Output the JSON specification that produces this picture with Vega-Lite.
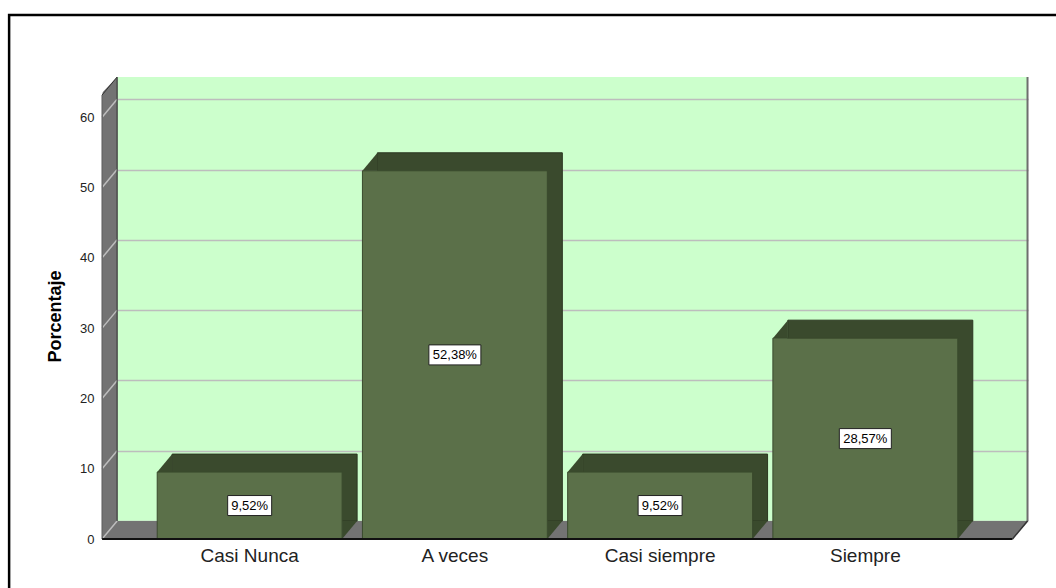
{
  "$schema": "https://vega.github.io/schema/vega-lite/v6.json",
  "width": 911,
  "height": 462,
  "autosize": {"type": "none"},
  "padding": {"left": 117, "top": 77, "right": 28, "bottom": 49},
  "background": "white",
  "view": {"fill": "#ccffcc", "stroke": null},
  "config": {"view": {"stroke": null, "fill": "#ccffcc"}, "font": "Liberation Sans"},
  "datasets": {
    "ticks": [{"g": 0}, {"g": 10}, {"g": 20}, {"g": 30}, {"g": 40}, {"g": 50}, {"g": 60}]
  },
  "data": {"values": [
    {"cat": "Casi Nunca", "pct": 9.52, "label": "9,52%"},
    {"cat": "A veces", "pct": 52.38, "label": "52,38%"},
    {"cat": "Casi siempre", "pct": 9.52, "label": "9,52%"},
    {"cat": "Siempre", "pct": 28.57, "label": "28,57%"}
  ]},
  "layer": [
    {
      "encoding": {
        "x": {"field": "cat", "type": "nominal", "sort": null,
          "scale": {"paddingInner": 0.099, "paddingOuter": 0.269},
          "axis": {"title": null, "labelFontSize": 19, "labelColor": "#222", "labelOffset": -15, "labelPadding": 7, "labelAngle": 0, "ticks": false, "domain": false, "grid": false}}
      },
      "layer": [
        {
          "mark": {"type": "rect", "fill": "#737373"},
          "encoding": {
            "x": null,
            "y": {"datum": 0, "type": "quantitative", "title": "Porcentaje", "scale": {"domain": [-2.56, 63.16], "nice": false, "zero": false}},
            "y2": {"datum": -2.56}
          }
        },
        {
          "data": {"name": "ticks"},
          "mark": {"type": "rule", "color": "#bdbdbd", "strokeWidth": 1.5, "xOffset": -15, "yOffset": 18},
          "encoding": {
            "x": {"datum": "Casi Nunca", "bandPosition": -0.298},
            "x2": {"datum": "Casi Nunca", "bandPosition": -0.298},
            "y": {"field": "g", "type": "quantitative", "title": "Porcentaje", "scale": {"domain": [-2.56, 63.16], "nice": false, "zero": false}},
            "y2": {"field": "g"}
          }
        },
        {
          "mark": {"type": "bar", "color": "#3a4a2d", "stroke": "#2c3822", "strokeWidth": 1},
          "encoding": {
            "y": {"field": "pct", "type": "quantitative", "title": "Porcentaje",
              "scale": {"domain": [-2.56, 63.16], "nice": false, "zero": false},
              "axis": {"values": [0, 10, 20, 30, 40, 50, 60], "title": "Porcentaje", "titleFontSize": 18, "titleFontWeight": "bold", "titleColor": "black", "titlePadding": 15, "titleY": 239,
                "labelFontSize": 13, "labelColor": "#222", "labelOffset": 18, "labelPadding": 15.5, "ticks": false, "tickSize": 0,
                "domain": true, "domainColor": "#737373", "domainWidth": 15, "offset": 7.5,
                "grid": true, "gridColor": "#bdbdbd", "gridWidth": 1.5}}
          }
        },
        {
          "mark": {"type": "point", "filled": true, "fill": "#3a4a2d", "strokeWidth": 0, "opacity": 1, "size": 1296, "shape": "M-0.8333,1L0,0L0,1Z"},
          "encoding": {
            "x": {"field": "cat", "type": "nominal", "sort": null, "bandPosition": 0},
            "y": {"field": "pct", "type": "quantitative", "title": "Porcentaje", "scale": {"domain": [-2.56, 63.16], "nice": false, "zero": false}}
          }
        },
        {
          "mark": {"type": "point", "filled": true, "fill": "#3a4a2d", "strokeWidth": 0, "opacity": 1, "size": 1296, "shape": "M-0.8333,0L0,0L-0.8333,1Z"},
          "encoding": {
            "x": {"field": "cat", "type": "nominal", "sort": null, "bandPosition": 1},
            "y": {"datum": 0, "type": "quantitative", "title": "Porcentaje", "scale": {"domain": [-2.56, 63.16], "nice": false, "zero": false}}
          }
        },
        {
          "mark": {"type": "bar", "color": "#5b7049", "stroke": "#3a4a2d", "strokeWidth": 1, "xOffset": -15, "x2Offset": -15, "yOffset": 18, "y2Offset": 18},
          "encoding": {
            "y": {"field": "pct", "type": "quantitative", "title": "Porcentaje", "scale": {"domain": [-2.56, 63.16], "nice": false, "zero": false}}
          }
        },
        {
          "data": {"values": [{}]},
          "mark": {"type": "point", "filled": true, "fill": "white", "strokeWidth": 0, "opacity": 1, "size": 1296, "shape": "M-0.8889,0L0,-1L0,0.1L-0.8889,0.1Z"},
          "encoding": {
            "x": {"datum": "Siempre", "bandPosition": 1.3},
            "y": {"datum": -2.56, "type": "quantitative", "title": "Porcentaje", "scale": {"domain": [-2.56, 63.16], "nice": false, "zero": false}}
          }
        },
        {
          "data": {"values": [{}]},
          "mark": {"type": "point", "filled": true, "fill": "white", "strokeWidth": 0, "opacity": 1, "size": 1296, "shape": "M-0.95,-0.05L0,-0.05L0,0L-0.95,1Z"},
          "encoding": {
            "x": {"datum": "Casi Nunca", "bandPosition": -0.298},
            "y": {"datum": 63.16, "type": "quantitative", "title": "Porcentaje", "scale": {"domain": [-2.56, 63.16], "nice": false, "zero": false}}
          }
        },
        {
          "data": {"values": [{}]},
          "mark": {"type": "rule", "color": "#333", "strokeWidth": 1, "xOffset": -15, "yOffset": 18},
          "encoding": {
            "x": {"datum": "Casi Nunca", "bandPosition": -0.298},
            "x2": {"datum": "Casi Nunca", "bandPosition": -0.298},
            "y": {"datum": 63.16, "type": "quantitative", "title": "Porcentaje", "scale": {"domain": [-2.56, 63.16], "nice": false, "zero": false}},
            "y2": {"datum": 63.16}
          }
        },
        {
          "data": {"values": [{}]},
          "mark": {"type": "rule", "color": "#333", "strokeWidth": 1, "xOffset": -15, "x2Offset": -15, "yOffset": 18},
          "encoding": {
            "x": {"datum": "Casi Nunca", "bandPosition": -0.298},
            "x2": {"datum": "Casi Nunca", "bandPosition": -0.298},
            "y": {"datum": 63.16, "type": "quantitative", "title": "Porcentaje", "scale": {"domain": [-2.56, 63.16], "nice": false, "zero": false}},
            "y2": {"datum": -2.56}
          }
        },
        {
          "data": {"values": [{}]},
          "mark": {"type": "rule", "color": "#333", "strokeWidth": 1},
          "encoding": {
            "x": {"datum": "Casi Nunca", "bandPosition": -0.298},
            "y": {"datum": 63.16, "type": "quantitative", "title": "Porcentaje", "scale": {"domain": [-2.56, 63.16], "nice": false, "zero": false}},
            "y2": {"datum": 0}
          }
        },
        {
          "data": {"values": [{}]},
          "mark": {"type": "rule", "color": "#6e6e6e", "strokeWidth": 2},
          "encoding": {
            "x": {"datum": "Siempre", "bandPosition": 1.296},
            "y": {"datum": 63.16, "type": "quantitative", "title": "Porcentaje", "scale": {"domain": [-2.56, 63.16], "nice": false, "zero": false}},
            "y2": {"datum": 0}
          }
        },
        {
          "data": {"values": [{}]},
          "mark": {"type": "rule", "color": "#111", "strokeWidth": 2, "xOffset": -15, "x2Offset": -15},
          "encoding": {
            "x": {"datum": "Casi Nunca", "bandPosition": -0.298},
            "x2": {"datum": "Siempre", "bandPosition": 1.296},
            "y": {"datum": -2.56, "type": "quantitative", "title": "Porcentaje", "scale": {"domain": [-2.56, 63.16], "nice": false, "zero": false}}
          }
        },
        {
          "data": {"values": [{}]},
          "mark": {"type": "rule", "color": "#333", "strokeWidth": 1.5, "xOffset": -15},
          "encoding": {
            "x": {"datum": "Siempre", "bandPosition": 1.296},
            "x2": {"datum": "Siempre", "bandPosition": 1.296},
            "y": {"datum": -2.56, "type": "quantitative", "title": "Porcentaje", "scale": {"domain": [-2.56, 63.16], "nice": false, "zero": false}},
            "y2": {"datum": 0}
          }
        },
        {
          "data": {"values": [{}]},
          "mark": {"type": "rect", "fillOpacity": 0, "stroke": "black", "strokeWidth": 2.5},
          "encoding": {
            "x": {"datum": "Casi Nunca", "bandPosition": -0.882},
            "x2": {"datum": "Siempre", "bandPosition": 1.55},
            "y": {"datum": 71.98, "type": "quantitative", "title": "Porcentaje", "scale": {"domain": [-2.56, 63.16], "nice": false, "zero": false}},
            "y2": {"datum": -12}
          }
        }
      ]
    },
    {
      "encoding": {
        "x": {"field": "cat", "type": "nominal", "sort": null,
          "axis": {"title": null, "labelFontSize": 19, "labelColor": "#222", "labelOffset": -15, "labelPadding": 7, "labelAngle": 0, "ticks": false, "domain": false, "grid": false}},
        "y": {"field": "pct", "type": "quantitative", "axis": null, "scale": {"domain": [-5.12, 126.32], "nice": false, "zero": false}}
      },
      "layer": [
        {
          "mark": {"type": "point", "filled": true, "fill": "white", "stroke": "#222", "strokeWidth": 1, "opacity": 1, "xOffset": -15, "yOffset": 18},
          "encoding": {
            "shape": {"condition": {"test": "datum.pct < 10", "value": "M-1,-0.4545H1V0.4545H-1Z"}, "value": "M-1,-0.3846H1V0.3846H-1Z"},
            "size": {"condition": {"test": "datum.pct < 10", "value": 1936}, "value": 2704}
          }
        },
        {
          "mark": {"type": "text", "fontSize": 13, "color": "black", "align": "center", "baseline": "middle", "xOffset": -15, "yOffset": 18},
          "encoding": {"text": {"field": "label"}}
        }
      ]
    }
  ],
  "resolve": {"scale": {"y": "independent"}}
}
